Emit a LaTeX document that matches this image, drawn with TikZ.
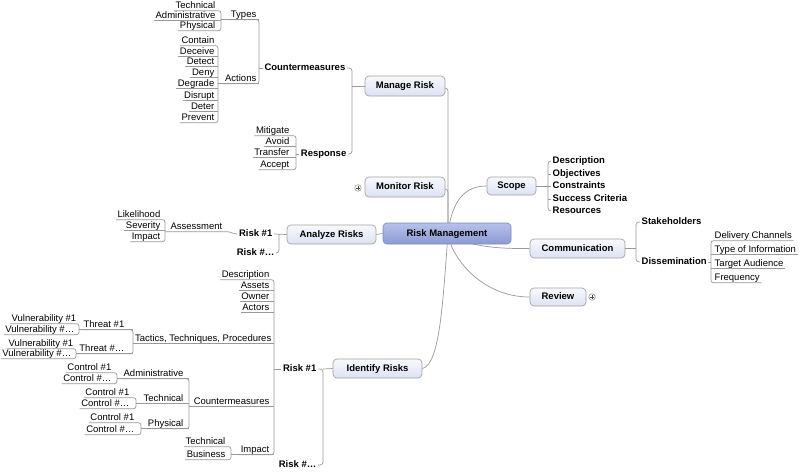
\documentclass[tikz,border=0pt]{standalone}
\usepackage{fontspec}
\setmainfont{Liberation Sans}
\usetikzlibrary{backgrounds}
\definecolor{lc}{HTML}{999999}
\definecolor{bxl}{HTML}{A3A3A3}
\definecolor{bxt}{HTML}{F8F9FE}
\definecolor{bxb}{HTML}{DCE2F4}
\definecolor{ctop}{HTML}{B6C1EA}
\definecolor{cbot}{HTML}{8C9AD3}
\definecolor{cln}{HTML}{7F8BBF}
\newcommand\LL[4]{\node[lf,anchor=east] (#1) at (#2,#3) {#4};}
\newcommand\LB[4]{\node[bf,anchor=east] (#1) at (#2,#3) {#4};}
\newcommand\RB[4]{\node[bf,anchor=west] (#1) at (#2,#3) {#4};}
\newcommand\RL[4]{\node[lf,anchor=west] (#1) at (#2,#3) {#4};}
\newcommand\ULx[2]{\draw[ln] (#1.south west) -- (#1.south west -| #2,0);}
\newcommand\ULb[3]{\draw[ln] (#1.south west -| #2,0) -- (#1.south west -| #3,0);}
\newcommand\BRK[3]{\draw[ln,rounded corners=2.5pt] (#1.south west) -- (#1.south west -| #3,0) -- (#2.south west -| #3,0) -- (#2.south west);}
\begin{document}
\begin{tikzpicture}[x=1pt,y=-1pt,
  font=\fontsize{9.5}{11}\selectfont,
  ln/.style={draw=lc, line width=0.7pt},
  lf/.style={inner xsep=1.5pt, inner ysep=0pt, text height=7pt, text depth=2pt},
  bf/.style={lf, font=\fontsize{9.5}{11}\selectfont\bfseries},
  box/.style={draw=bxl, line width=0.7pt, rounded corners=4pt, top color=bxt, bottom color=bxb,
    font=\fontsize{9.5}{11}\selectfont\bfseries, inner sep=0pt, text height=7pt, text depth=2pt},
  hubbox/.style={box, draw=cln, top color=ctop, bottom color=cbot},
  plusc/.style={circle, draw=lc, fill=white, line width=0.6pt, minimum size=6.5pt, inner sep=0pt},
  pl/.style={draw=black!70, line width=0.6pt}]
\useasboundingbox (0,0) rectangle (800,472);
% ---------- main boxes ----------
\node[hubbox, minimum width=128pt, minimum height=21pt] (center) at (447,233.5) {Risk Management};
\coordinate (hub) at (448,233.5);
\node[box, minimum width=80pt, minimum height=20pt] (manage) at (405,86) {Manage Risk};
\node[box, minimum width=80pt, minimum height=20pt] (monitor) at (405,187) {Monitor Risk};
\node[box, minimum width=89pt, minimum height=19pt] (analyze) at (331.5,234.5) {Analyze Risks};
\node[box, minimum width=89pt, minimum height=19pt] (identify) at (377.5,368.5) {Identify Risks};
\node[box, minimum width=49pt, minimum height=18pt] (scope) at (511.5,186) {Scope};
\node[box, minimum width=95pt, minimum height=19pt] (comm) at (577.5,248.5) {Communication};
\node[box, minimum width=56pt, minimum height=18pt] (review) at (558,297) {Review};
\node[plusc] (mplus) at (358,188) {};
\draw[pl] ([xshift=-1.6pt]mplus.center) -- ([xshift=1.6pt]mplus.center);
\draw[pl] ([yshift=-1.6pt]mplus.center) -- ([yshift=1.6pt]mplus.center);
\node[plusc] (rplus) at (592,297) {};
\draw[pl] ([xshift=-1.6pt]rplus.center) -- ([xshift=1.6pt]rplus.center);
\draw[pl] ([yshift=-1.6pt]rplus.center) -- ([yshift=1.6pt]rplus.center);
\begin{scope}[on background layer]
\fill[white] (0,0) rectangle (800,472);
\draw[ln,rounded corners=3pt] ([yshift=-2pt]manage.east) -| (hub);
\draw[ln,rounded corners=3pt] ([yshift=-2pt]monitor.east) -| (hub);
\draw[ln] (analyze.east) -- (center.west);
\draw[ln] (identify.east) .. controls (440,365) and (443,300) .. (hub);
\draw[ln] (hub) .. controls (452,200) and (465,186) .. (scope.west);
\draw[ln] (hub) .. controls (465,245) and (490,249) .. (comm.west);
\draw[ln] (hub) .. controls (450,255) and (480,297) .. (review.west);
\end{scope}
% ---------- Manage Risk subtree ----------
\LB{cm1}{347}{68}{Countermeasures}
\LB{resp}{348}{154}{Response}
\draw[ln,rounded corners=3pt] (cm1.east) -- (cm1.east -| 352,0) -- (resp.east -| 352,0) -- (resp.east);
\draw[ln] (manage.west -| 352,0) -- (manage.west);
\LL{types}{258}{15}{Types}
\LL{actions}{258}{79}{Actions}
\draw[ln] (cm1.west -| 259,0) -- (cm1.west);
\BRK{types}{actions}{259}
\ULb{types}{221}{259}
\ULb{actions}{218}{259}
\LL{tech}{217}{6}{Technical}
\LL{admin}{217}{16}{Administrative}
\LL{phys}{217}{26}{Physical}
\BRK{tech}{phys}{221}
\ULx{admin}{221}
\LL{contain}{216}{41}{Contain}
\LL{deceive}{216}{52}{Deceive}
\LL{detect}{216}{62}{Detect}
\LL{deny}{216}{73}{Deny}
\LL{degrade}{216}{84}{Degrade}
\LL{disrupt}{216}{96}{Disrupt}
\LL{deter}{216}{107}{Deter}
\LL{prevent}{216}{118}{Prevent}
\BRK{contain}{prevent}{218}
\ULx{deceive}{218}\ULx{detect}{218}\ULx{deny}{218}\ULx{degrade}{218}\ULx{disrupt}{218}\ULx{deter}{218}
\LL{mitigate}{291}{131}{Mitigate}
\LL{avoid}{291}{142}{Avoid}
\LL{transfer}{291}{153}{Transfer}
\LL{accept}{291}{165}{Accept}
\BRK{mitigate}{accept}{296}
\ULx{avoid}{296}\ULx{transfer}{296}
\draw[ln] (resp.west -| 296,0) -- (resp.west);
% ---------- Analyze Risks subtree ----------
\LB{ar1}{274}{234}{Risk \#1}
\LB{ar2}{276}{253}{Risk \#…}
\draw[ln] (ar1.east) -- (analyze.west);
\draw[ln,rounded corners=3pt] (ar1.east -| 279,0) -- (ar2.east -| 279,0) -- (ar2.east);
\LL{assess}{224}{227}{Assessment}
\draw[ln] (assess.south west -| 165,0) -- ([xshift=3pt]assess.south east) to[out=0,in=180] (ar1.west);
\LL{likeli}{162}{215}{Likelihood}
\LL{sever}{162}{226}{Severity}
\LL{aimp}{162}{237}{Impact}
\BRK{likeli}{aimp}{165}
\ULx{sever}{165}
% ---------- Identify Risks subtree ----------
\LB{ir1}{318}{369}{Risk \#1}
\LB{ir2}{318}{465}{Risk \#…}
\draw[ln,rounded corners=3pt] (ir1.east) -- (ir1.east -| 323,0) -- (ir2.east -| 323,0) -- (ir2.east);
\draw[ln] (ir1.east -| 323,0) -- (identify.west);
\draw[ln] (ir1.west -| 274,0) -- (ir1.west);
\LL{desc}{271}{275}{Description}
\LL{assets}{271}{286}{Assets}
\LL{owner}{271}{297}{Owner}
\LL{actors}{271}{308}{Actors}
\LL{ttp}{273}{339}{Tactics, Techniques, Procedures}
\LL{cm2}{271}{402}{Countermeasures}
\LL{iimp}{271}{450}{Impact}
\BRK{desc}{iimp}{274}
\ULx{assets}{274}\ULx{owner}{274}\ULx{actors}{274}
\ULb{ttp}{133}{274}
\ULb{cm2}{189}{274}
\ULb{iimp}{231}{274}
\LL{th1}{126}{325}{Threat \#1}
\LL{th2}{126}{349}{Threat \#…}
\BRK{th1}{th2}{133}
\ULb{th1}{79}{133}
\ULb{th2}{76}{133}
\LL{v11}{78}{319}{Vulnerability \#1}
\LL{v12}{76}{330}{Vulnerability \#…}
\BRK{v11}{v12}{79}
\LL{v21}{75}{344}{Vulnerability \#1}
\LL{v22}{73}{354}{Vulnerability \#…}
\BRK{v21}{v22}{76}
\LL{adm}{185}{374}{Administrative}
\LL{techn}{185}{399}{Technical}
\LL{phy}{185}{424}{Physical}
\BRK{adm}{phy}{189}
\ULb{adm}{117}{189}
\ULb{techn}{136}{189}
\ULb{phy}{141}{189}
\LL{c11}{113}{368}{Control \#1}
\LL{c12}{113}{379}{Control \#…}
\BRK{c11}{c12}{117}
\LL{c21}{131}{393}{Control \#1}
\LL{c22}{131}{404}{Control \#…}
\BRK{c21}{c22}{136}
\LL{c31}{136}{418}{Control \#1}
\LL{c32}{136}{430}{Control \#…}
\BRK{c31}{c32}{141}
\LL{it}{227}{442}{Technical}
\LL{ib}{227}{455}{Business}
\BRK{it}{ib}{231}
% ---------- Scope ----------
\RB{sd}{551}{161}{Description}
\RB{so}{551}{174}{Objectives}
\RB{sc}{551}{186}{Constraints}
\RB{ss}{551}{199}{Success Criteria}
\RB{sr}{551}{211}{Resources}
\draw[ln,rounded corners=3pt] (sd.west) -- (sd.west -| 548,0) -- (sr.west -| 548,0) -- (sr.west);
\draw[ln] (so.west -| 548,0) -- (so.west);
\draw[ln] (sc.west -| 548,0) -- (sc.west);
\draw[ln] (ss.west -| 548,0) -- (ss.west);
\draw[ln] (scope.east) -- (scope.east -| 548,0);
% ---------- Communication ----------
\RB{stake}{640}{222}{Stakeholders}
\RB{diss}{640}{262}{Dissemination}
\draw[ln,rounded corners=3pt] (stake.west) -- (stake.west -| 636,0) -- (diss.west -| 636,0) -- (diss.west);
\draw[ln] (comm.east) -- (comm.east -| 636,0);
\RL{dc}{713}{236}{Delivery Channels}
\RL{ti}{713}{250}{Type of Information}
\RL{ta}{713}{264}{Target Audience}
\RL{fq}{713}{278}{Frequency}
\draw[ln,rounded corners=2.5pt] (dc.south east) -- (dc.south west -| 711,0) -- (fq.south west -| 711,0) -- (fq.south east);
\draw[ln] (ti.south west -| 711,0) -- (ti.south east);
\draw[ln] (ta.south west -| 711,0) -- (ta.south east);
\draw[ln] (diss.east) -- (diss.east -| 711,0);
\end{tikzpicture}
\end{document}
